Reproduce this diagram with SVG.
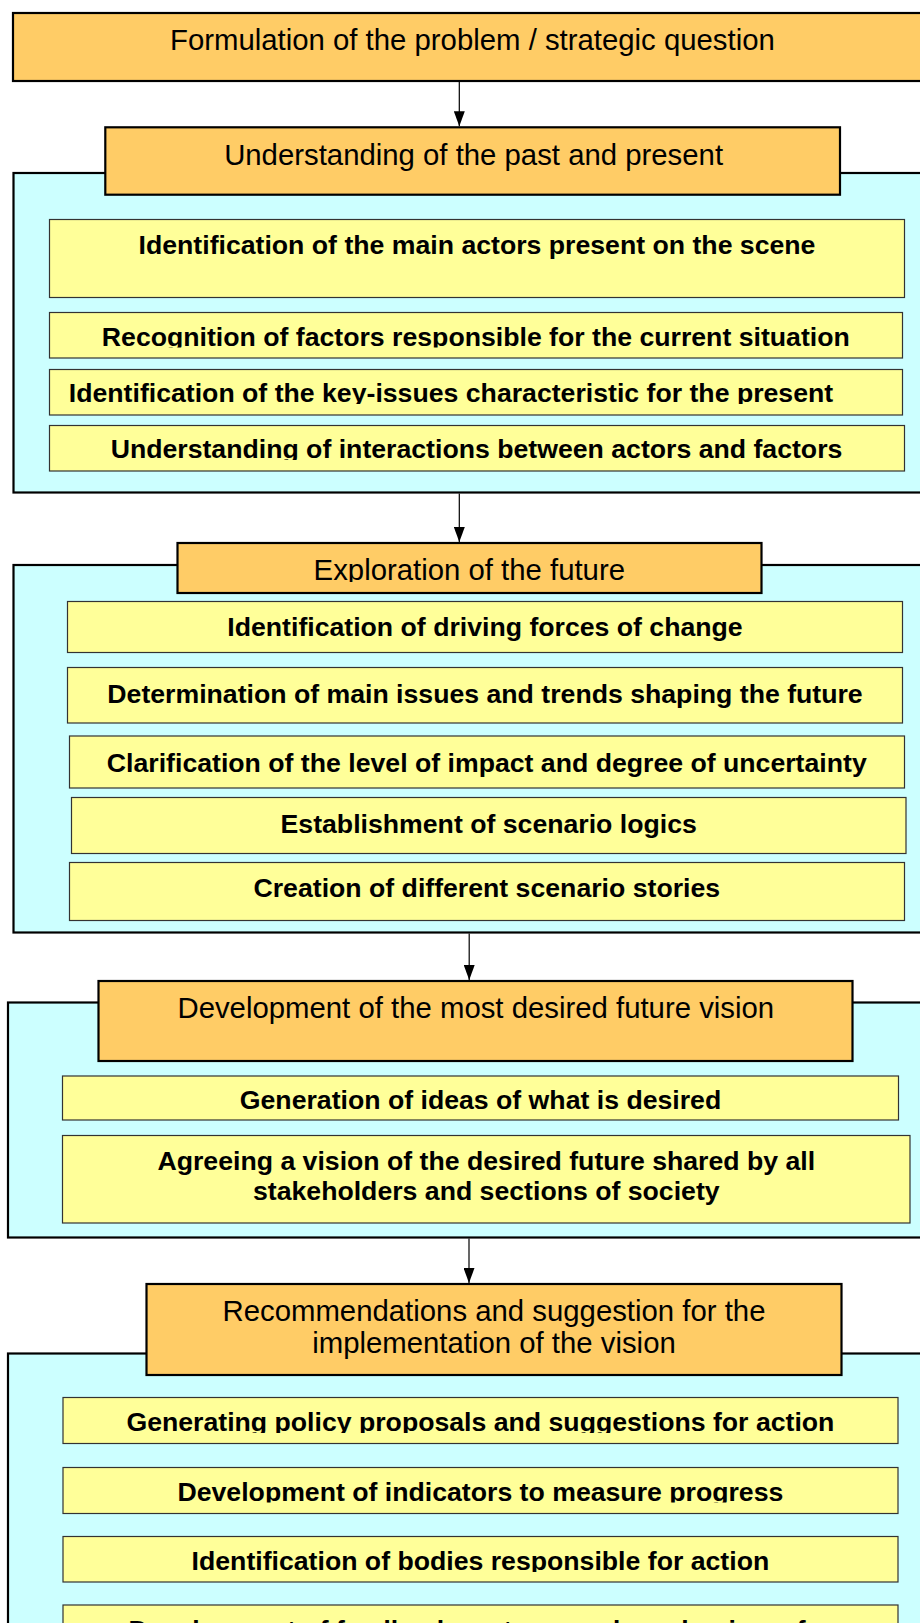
<svg xmlns="http://www.w3.org/2000/svg" width="920" height="1623" viewBox="0 0 920 1623">
<style>
.hdr{fill:#FFCC66;stroke:#000;stroke-width:2.2}
.cont{fill:#CCFFFF;stroke:#000;stroke-width:2.2}
.item{fill:#FFFF99;stroke:#333;stroke-width:1.2}
.ht{font-family:"Liberation Sans",Arial,sans-serif;font-size:29.33px;fill:#000;text-anchor:middle}
.it{font-family:"Liberation Sans",Arial,sans-serif;font-size:26.67px;font-weight:bold;fill:#000;text-anchor:middle}
.conn{stroke:#000;stroke-width:1.2;fill:none}
</style>
<defs>
<marker id="arr" markerUnits="userSpaceOnUse" markerWidth="15" markerHeight="11" refX="15" refY="5.5" orient="auto" viewBox="0 0 15 11">
<path d="M0,0 L15,5.5 L0,11 z" fill="#000"/>
</marker>
<clipPath id="cB"><rect x="0" y="300" width="920" height="47.5"/></clipPath>
<clipPath id="cC"><rect x="0" y="360" width="920" height="44"/></clipPath>
<clipPath id="cD"><rect x="0" y="420" width="920" height="40"/></clipPath>
<clipPath id="cH2"><rect x="0" y="540" width="920" height="42"/></clipPath>
<clipPath id="c3a"><rect x="0" y="1070" width="920" height="41.5"/></clipPath>
<clipPath id="c4a"><rect x="0" y="1390" width="920" height="43"/></clipPath>
<clipPath id="c4b"><rect x="0" y="1460" width="920" height="42.5"/></clipPath>
<clipPath id="c4c"><rect x="0" y="1530" width="920" height="42"/></clipPath>
</defs>

<g id="problem">
<rect class="hdr" x="13" y="13" width="920" height="68"/>
<text class="ht" x="472.4" y="50">Formulation of the problem / strategic question</text>
</g>

<g id="section1">
<rect class="cont" x="13.5" y="173" width="920" height="319.5"/>
<g id="section1-header">
<rect class="hdr" x="105.3" y="127.3" width="734.7" height="67.4"/>
<text class="ht" x="473.6" y="165">Understanding of the past and present</text>
</g>
<g id="s1-actors">
<rect class="item" x="49.5" y="219.5" width="855" height="78"/>
<text class="it" x="477" y="254">Identification of the main actors present on the scene</text>
</g>
<g id="s1-factors">
<rect class="item" x="49.5" y="312.5" width="853" height="45.5"/>
<text class="it" x="475.8" y="345.7" clip-path="url(#cB)">Recognition of factors responsible for the current situation</text>
</g>
<g id="s1-keyissues">
<rect class="item" x="49.5" y="369.5" width="853" height="45.5"/>
<text class="it" x="451" y="402" clip-path="url(#cC)">Identification of the key-issues characteristic for the present</text>
</g>
<g id="s1-interactions">
<rect class="item" x="49.5" y="425.5" width="855" height="45.5"/>
<text class="it" x="476.5" y="458.3" clip-path="url(#cD)">Understanding of interactions between actors and factors</text>
</g>
</g>

<g id="section2">
<rect class="cont" x="13.5" y="565" width="920" height="367.5"/>
<g id="section2-header">
<rect class="hdr" x="177.5" y="543" width="584" height="50"/>
<text class="ht" x="469.3" y="580" clip-path="url(#cH2)">Exploration of the future</text>
</g>
<g id="s2-forces">
<rect class="item" x="67.5" y="601.5" width="835" height="51"/>
<text class="it" x="485" y="636">Identification of driving forces of change</text>
</g>
<g id="s2-trends">
<rect class="item" x="67.5" y="667.5" width="835" height="55.5"/>
<text class="it" x="485" y="702.7">Determination of main issues and trends shaping the future</text>
</g>
<g id="s2-impact">
<rect class="item" x="69.5" y="736" width="835" height="52"/>
<text class="it" x="486.8" y="771.7">Clarification of the level of impact and degree of uncertainty</text>
</g>
<g id="s2-logics">
<rect class="item" x="71.5" y="797.5" width="834.5" height="56"/>
<text class="it" x="488.7" y="832.7">Establishment of scenario logics</text>
</g>
<g id="s2-stories">
<rect class="item" x="69.5" y="862.5" width="835" height="58"/>
<text class="it" x="486.8" y="896.7">Creation of different scenario stories</text>
</g>
</g>

<g id="section3">
<rect class="cont" x="8" y="1002.5" width="920" height="235"/>
<g id="section3-header">
<rect class="hdr" x="98.5" y="981" width="754" height="80"/>
<text class="ht" x="475.8" y="1018.3">Development of the most desired future vision</text>
</g>
<g id="s3-ideas">
<rect class="item" x="62.5" y="1076" width="836" height="44"/>
<text class="it" x="480.5" y="1109.3" clip-path="url(#c3a)">Generation of ideas of what is desired</text>
</g>
<g id="s3-vision">
<rect class="item" x="62.5" y="1135.5" width="847.5" height="87.5"/>
<text class="it" x="486.3" y="1170">Agreeing a vision of the desired future shared by all</text>
<text class="it" x="486.3" y="1200">stakeholders and sections of society</text>
</g>
</g>

<g id="section4">
<rect class="cont" x="8" y="1353.5" width="920" height="300"/>
<g id="section4-header">
<rect class="hdr" x="146.5" y="1284" width="695" height="91"/>
<text class="ht" x="494" y="1321">Recommendations and suggestion for the</text>
<text class="ht" x="494" y="1353">implementation of the vision</text>
</g>
<g id="s4-policy">
<rect class="item" x="63" y="1397.5" width="835" height="46"/>
<text class="it" x="480.4" y="1431" clip-path="url(#c4a)">Generating policy proposals and suggestions for action</text>
</g>
<g id="s4-indicators">
<rect class="item" x="63" y="1467.5" width="835" height="46"/>
<text class="it" x="480.4" y="1500.7" clip-path="url(#c4b)">Development of indicators to measure progress</text>
</g>
<g id="s4-bodies">
<rect class="item" x="63" y="1536.5" width="835" height="45.5"/>
<text class="it" x="480.4" y="1570" clip-path="url(#c4c)">Identification of bodies responsible for action</text>
</g>
<g id="s4-feedback">
<rect class="item" x="63" y="1605" width="835" height="60"/>
<text class="it" x="480.4" y="1639">Development of feedback systems and mechanisms for</text>
</g>
</g>

<g id="connectors">
<line class="conn" x1="459.3" y1="82" x2="459.3" y2="126.3" marker-end="url(#arr)"/>
<line class="conn" x1="459.3" y1="493.6" x2="459.3" y2="542" marker-end="url(#arr)"/>
<line class="conn" x1="469.2" y1="933.6" x2="469.2" y2="980" marker-end="url(#arr)"/>
<line class="conn" x1="469" y1="1238.6" x2="469" y2="1283" marker-end="url(#arr)"/>
</g>
</svg>
